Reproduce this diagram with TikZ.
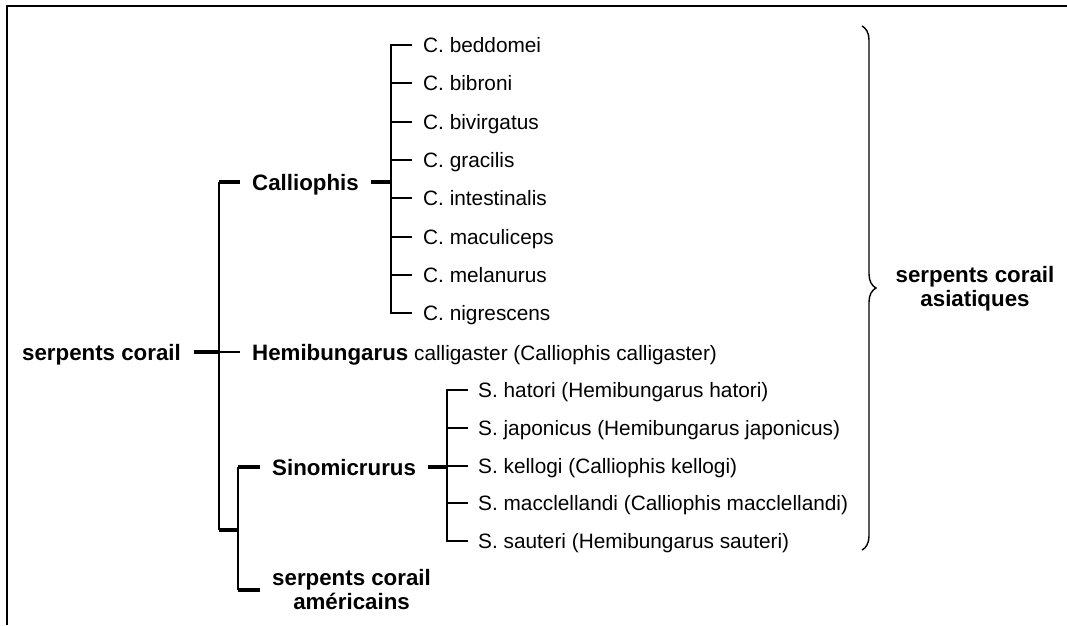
\documentclass[tikz,border=0pt]{standalone}
\usepackage{fontspec}
\setmainfont{Liberation Sans}
\usepackage{tikz}
\usetikzlibrary{positioning, decorations.pathreplacing}
\newcommand{\grpfont}{\fontsize{22.3}{24}\selectfont\bfseries}
\newcommand{\spfont}{\fontsize{20.8}{24}\selectfont}

\begin{document}
\begin{tikzpicture}[x=1pt, y=1pt,
    grp/.style={inner sep=0pt, font=\grpfont, text height=16pt, text depth=0pt, anchor=west},
    grptwo/.style={inner sep=0pt, font=\grpfont, align=center, anchor=west},
    sp/.style={inner sep=0pt, font=\spfont, text height=15pt, text depth=0pt, anchor=west},
    stub/.style={line width=4.5pt},
    twig/.style={line width=2pt},
    frame/.style={line width=2pt},
    brc/.style={line width=1.4pt, decorate, decoration={brace, amplitude=14pt}}
  ]
    \useasboundingbox (0,0) rectangle (1067,-625);
    \draw[frame] (7,-625) -- (7,-6) -- (1067,-6);

    % genera
    \node[grp] (root) at (22,-352) {serpents corail};
    \node[grp] (cal)  at (252,-182) {Calliophis};
    \node[sp, text height=16pt] (hem) at (252,-352) {{\grpfont Hemibungarus} calligaster (Calliophis calligaster)};
    \node[grp] (sin)  at (272,-467) {Sinomicrurus};
    \node[grptwo] (ame) at (272,-590) {serpents corail\\américains};

    % Calliophis species
    \node[sp] (c1) at (423,-45) {C. beddomei};
    \node[sp, below=38.3pt of c1.west, anchor=west] (c2) {C. bibroni};
    \node[sp, below=38.3pt of c2.west, anchor=west] (c3) {C. bivirgatus};
    \node[sp, below=38.3pt of c3.west, anchor=west] (c4) {C. gracilis};
    \node[sp, below=38.3pt of c4.west, anchor=west] (c5) {C. intestinalis};
    \node[sp, below=38.3pt of c5.west, anchor=west] (c6) {C. maculiceps};
    \node[sp, below=38.3pt of c6.west, anchor=west] (c7) {C. melanurus};
    \node[sp, below=38.3pt of c7.west, anchor=west] (c8) {C. nigrescens};

    % Sinomicrurus species
    \node[sp] (s1) at (478,-390) {S. hatori (Hemibungarus hatori)};
    \node[sp, below=37.8pt of s1.west, anchor=west] (s2) {S. japonicus (Hemibungarus japonicus)};
    \node[sp, below=37.8pt of s2.west, anchor=west] (s3) {S. kellogi (Calliophis kellogi)};
    \node[sp, below=37.8pt of s3.west, anchor=west] (s4) {S. macclellandi (Calliophis macclellandi)};
    \node[sp, below=37.8pt of s4.west, anchor=west] (s5) {S. sauteri (Hemibungarus sauteri)};

    \node[grptwo, anchor=center] (asia) at (975,-289) {serpents corail\\asiatiques};

    % junctions
    \coordinate (m1) at (219,-182);
    \coordinate (m0) at (219,-352);
    \coordinate (m2) at (219,-530);
    \coordinate (n0) at (238,-530);
    \coordinate (n1) at (238,-467);
    \coordinate (n2) at (238,-590);
    \coordinate (cv) at (391,-182);
    \coordinate (sv) at (447,-467);
    \coordinate (bt) at (862,-26);
    \coordinate (bb) at (862,-550);

    % main tree
    \draw[twig] (m1) -- (m2);
    \draw[stub] ([xshift=13pt]root.east) -- (m0);
    \draw[stub] (m1) -- ([xshift=-12pt]cal.west);
    \draw[twig] (m0) -- ([xshift=-12pt]hem.west);
    \draw[stub] (m2) -- (n0);
    \draw[twig] (n1) -- (n2);
    \draw[stub] (n1) -- ([xshift=-12pt]sin.west);
    \draw[stub] (n2) -- ([xshift=-12pt]ame.west);

    % Calliophis
    \draw[stub] ([xshift=12pt]cal.east) -- (cv);
    \draw[twig] ([xshift=-11pt]c1.west) -| ([xshift=-32pt]c8.west) -- ([xshift=-11pt]c8.west);
    \foreach \n in {c2,c3,c4,c5,c6,c7}
      \draw[twig] ([xshift=-32pt]\n.west) -- ([xshift=-11pt]\n.west);

    % Sinomicrurus
    \draw[stub] ([xshift=12pt]sin.east) -- (sv);
    \draw[twig] ([xshift=-10pt]s1.west) -| ([xshift=-31pt]s5.west) -- ([xshift=-10pt]s5.west);
    \foreach \n in {s2,s3,s4}
      \draw[twig] ([xshift=-31pt]\n.west) -- ([xshift=-10pt]\n.west);

    \draw[brc] (bt) -- (bb);
  \end{tikzpicture}
\end{document}
